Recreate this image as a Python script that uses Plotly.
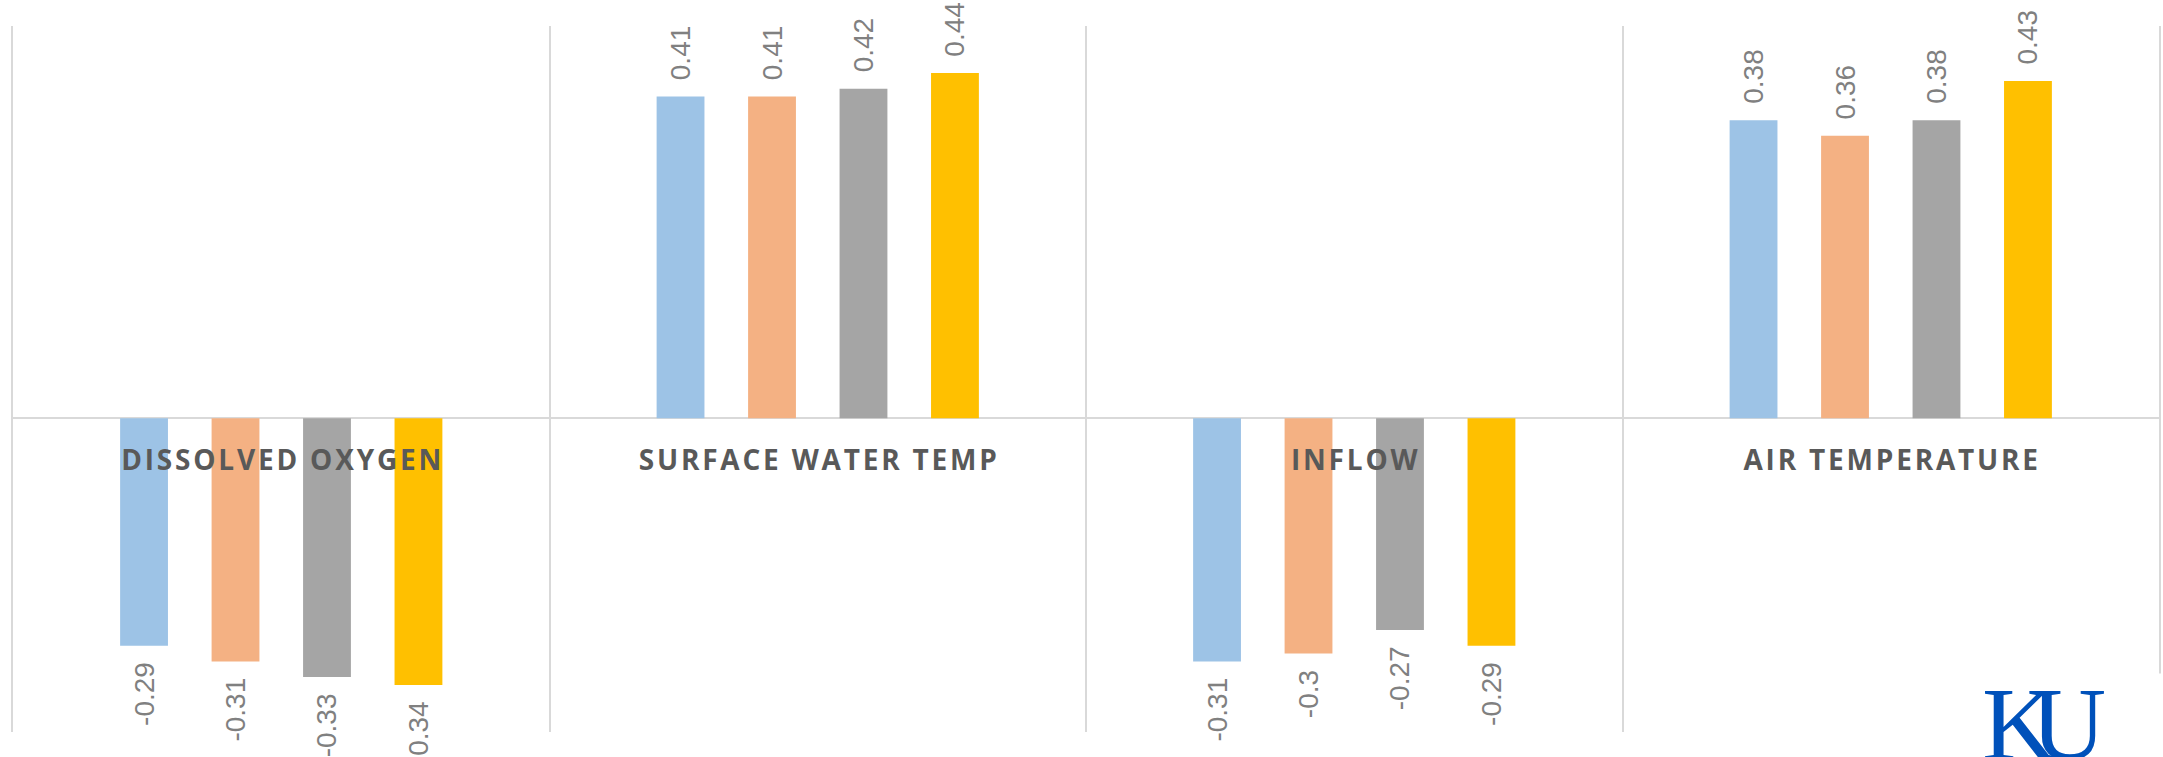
import plotly.graph_objects as go

# Correlation of each driver with the response, four series per driver
categories = ["DISSOLVED OXYGEN", "SURFACE WATER TEMP", "INFLOW", "AIR TEMPERATURE"]
series_names = ["Series 1", "Series 2", "Series 3", "Series 4"]
series_1 = [-0.29, 0.41, -0.31, 0.38]
series_2 = [-0.31, 0.41, -0.30, 0.36]
series_3 = [-0.33, 0.42, -0.27, 0.38]
series_4 = [-0.34, 0.44, -0.29, 0.43]
series_values = [series_1, series_2, series_3, series_4]
bar_colors = ["#9DC3E6", "#F4B183", "#A5A5A5", "#FFC000"]

Y_MIN, Y_MAX = -0.4, 0.5
GRID = "#D9D9D9"


def spaced(label):
    # widen the letter spacing of the category captions
    return "\u200a".join(label)


def bar_label(v):
    # keep a little air between the bar end and its rotated value label
    pad = "\u00a0\u2009"
    s = f"{v:g}"
    return pad + s if v >= 0 else s + pad


fig = go.Figure()
for name, vals, color in zip(series_names, series_values, bar_colors):
    fig.add_trace(go.Bar(
        x=categories,
        y=vals,
        name=name,
        marker=dict(color=color, line=dict(width=0)),
        text=[bar_label(v) for v in vals],
        textposition="outside",
        textangle=-90,
        constraintext="none",
        textfont=dict(family="Liberation Sans", size=28, color="#808080"),
        cliponaxis=False,
        hoverinfo="skip",
    ))

fig.update_layout(
    width=2163,
    height=757,
    margin=dict(l=13, r=2, t=26, b=25),
    barmode="group",
    bargap=0.318,
    bargroupgap=0.477,
    showlegend=False,
    paper_bgcolor="white",
    plot_bgcolor="white",
    xaxis=dict(
        type="category",
        range=[-0.5, len(categories) - 0.5],
        tickson="boundaries",
        showgrid=True,
        gridcolor=GRID,
        gridwidth=1.5,
        ticks="",
        tickvals=categories,
        ticktext=[spaced(c) for c in categories],
        tickfont=dict(family="Open Sans", size=28, color="#595959", weight="bold"),
        anchor="free",
        position=(0 - Y_MIN) / (Y_MAX - Y_MIN),
        ticklabelstandoff=23,
        showline=False,
        zeroline=False,
    ),
    yaxis=dict(
        range=[Y_MIN, Y_MAX],
        showgrid=False,
        zeroline=True,
        zerolinecolor=GRID,
        zerolinewidth=1.5,
        showticklabels=False,
        ticks="",
        showline=True,
        mirror=True,
        linecolor=GRID,
        linewidth=1.5,
    ),
)

# KU logo in the lower right corner, on a white patch
fig.add_shape(type="rect", xref="paper", yref="paper",
              x0=0.88, x1=1.01, y0=-0.06, y1=0.083,
              fillcolor="white", line=dict(width=0), layer="above")
fig.add_annotation(text="K", xref="paper", yref="paper", x=0.9167, y=0.097,
                   xanchor="left", yanchor="top", showarrow=False,
                   font=dict(family="Liberation Serif", size=104, color="#0051BA"))
fig.add_annotation(text="U", xref="paper", yref="paper", x=0.9395, y=0.097,
                   xanchor="left", yanchor="top", showarrow=False,
                   font=dict(family="Liberation Serif", size=104, color="#0051BA"))

fig.write_html("out.html")
